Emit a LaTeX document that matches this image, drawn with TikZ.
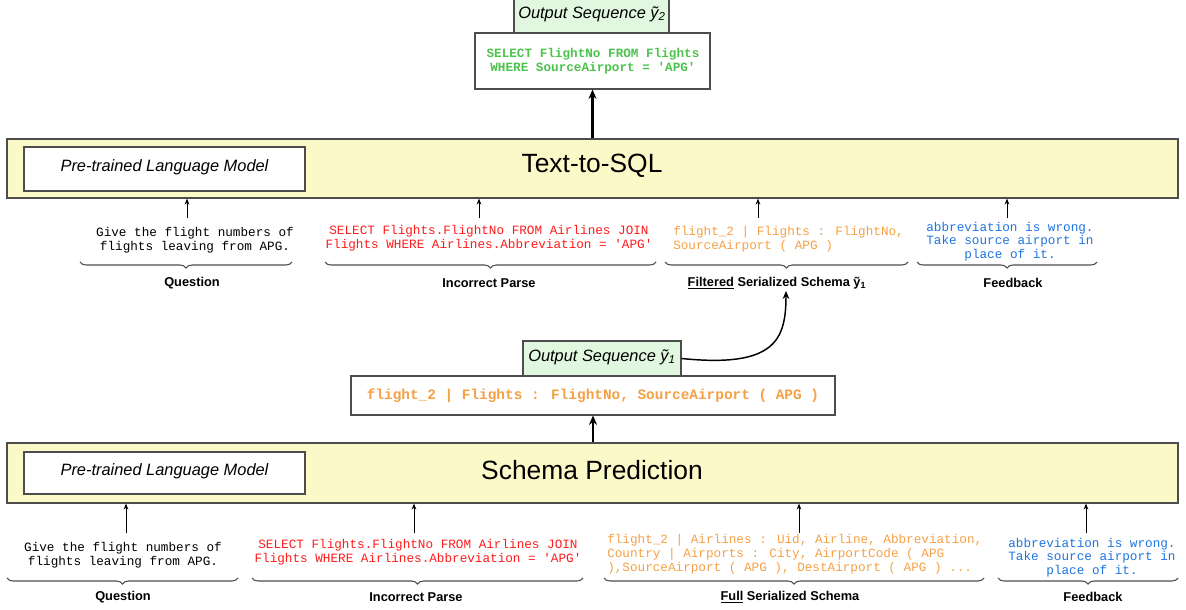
\documentclass[tikz,border=0pt]{standalone}
\usepackage{fontspec}
\setmainfont{Liberation Sans}
\newfontfamily\monof{Liberation Mono}
\usetikzlibrary{decorations.pathreplacing,arrows.meta,fit}
\definecolor{ylw}{HTML}{FBF9C8}
\definecolor{grn}{HTML}{E1F7DF}
\definecolor{sqlgreen}{HTML}{4DC34D}
\definecolor{sqlred}{HTML}{FF1A1A}
\definecolor{sqlorange}{HTML}{F5A045}
\definecolor{sqlblue}{HTML}{1F75E0}
\definecolor{edge}{HTML}{4D4D4D}
\tikzset{
  modelbar/.style={draw=edge, fill=ylw, line width=0.9pt, inner sep=0},
  plmbox/.style={draw=edge, fill=white, line width=0.9pt, inner sep=0},
  outbox/.style={draw=edge, fill=white, line width=0.8pt, inner sep=0},
  seqbox/.style={draw=edge, fill=grn, line width=0.8pt, inner sep=0},
  mono/.style={font=\monof\fontsize{9.5}{10.3}\selectfont, align=center, inner sep=0},
  monobold/.style={font=\monof\bfseries\fontsize{9.5}{10.8}\selectfont, align=center, inner sep=0},
  lbl/.style={font=\bfseries\fontsize{9.6}{11}\selectfont, inner sep=0},
  itl/.style={font=\itshape\fontsize{12.3}{14}\selectfont, inner sep=0},
  big/.style={font=\fontsize{19.8}{23}\selectfont, inner sep=0},
  thinarr/.style={line width=0.6pt, -{Stealth[length=4.5pt,width=3.5pt]}},
  thickarr/.style={line width=2pt, -{Stealth[length=7pt,width=6pt]}},
  brc/.style={draw=edge, line width=0.8pt, decorate, decoration={brace, mirror, amplitude=4.5pt}},
}
\begin{document}
\begin{tikzpicture}[x=0.75pt,y=-0.75pt]
\useasboundingbox (0,0) rectangle (1186,610);

% ---------- top output ----------
\node[fit={(514,-6)(669,33)}, seqbox] (seq2) {};
\node[itl] (seq2t) at (592,14) {Output Sequence ỹ\textsubscript{2}};
\node[fit={(475,33)(710,89)}, outbox] (out2) {};
\node[monobold, text=sqlgreen] (out2t) at (593,61) {SELECT FlightNo FROM Flights\\WHERE SourceAirport = 'APG'};

% ---------- Text-to-SQL bar ----------
\node[fit={(7,139)(1178,198)}, modelbar] (t2s) {};
\node[fit={(24,147)(305,191)}, plmbox] (plm2) {};
\node[itl] (plm2t) at (164.5,167) {Pre-trained Language Model};
\node[big] (t2st) at (592,166) {Text-to-SQL};
\draw[thickarr] (t2s.north -| out2.south) -- (out2.south);

% inputs to Text-to-SQL
\node[mono] (q2) at (195,240) {Give the flight numbers of\\flights leaving from APG.};
\node[mono, text=sqlred] (ip2) at (489,238) {SELECT Flights.FlightNo FROM Airlines JOIN\\Flights WHERE Airlines.Abbreviation = 'APG'};
\node[mono, text=sqlorange, align=left, anchor=west] (fs2) at (673,239) {flight\_2 | Flights : FlightNo,\\SourceAirport ( APG )};
\node[mono, text=sqlblue] (fb2) at (1010,241.5) {abbreviation is wrong.\\Take source airport in\\place of it.};

\coordinate (a2q) at (187,218);
\coordinate (a2i) at (479,218);
\coordinate (a2f) at (758,218);
\coordinate (a2b) at (1007,218);
\foreach \c in {a2q,a2i,a2f,a2b}{\draw[thinarr] (\c) -- (\c |- t2s.south);}

\draw[brc] (80,262) -- (292,262);
\draw[brc] (325,262) -- (656,262);
\draw[brc] (665,262) -- (908,262);
\draw[brc] (917,262) -- (1097,262);

\node[lbl] (q2l) at (192,283) {Question};
\node[lbl] (ip2l) at (489,283) {Incorrect Parse};
\node[lbl] (fs2l) at (777,283) {\underline{Filtered} Serialized Schema ỹ\textsubscript{1}};
\node[lbl] (fb2l) at (1013,283) {Feedback};
\coordinate (fs2in) at (786,291);

% ---------- middle output ----------
\node[fit={(523,341)(681,376)}, seqbox] (seq1) {};
\node[itl] (seq1t) at (602,357) {Output Sequence ỹ\textsubscript{1}};
\node[fit={(351,376)(835,415)}, outbox] (out1) {};
\node[monobold, font=\monof\bfseries\fontsize{10.8}{12}\selectfont, text=sqlorange] (out1t) at (593,396) {flight\_2 | Flights : FlightNo, SourceAirport ( APG )};
\draw[line width=1.1pt, -{Stealth[length=6pt,width=5pt]}] (seq1.east) .. controls (775,368) and (786,340) .. (fs2in);

% ---------- Schema Prediction bar ----------
\node[fit={(7,443)(1178,503)}, modelbar] (sp) {};
\node[fit={(24,452)(305,494)}, plmbox] (plm1) {};
\node[itl] (plm1t) at (164.5,471) {Pre-trained Language Model};
\node[big] (spt) at (592,470) {Schema Prediction};
\draw[thickarr] (sp.north -| out1.south) -- (out1.south);

% inputs to Schema Prediction
\node[mono] (q1) at (123,555) {Give the flight numbers of\\flights leaving from APG.};
\node[mono, text=sqlred] (ip1) at (418,552.5) {SELECT Flights.FlightNo FROM Airlines JOIN\\Flights WHERE Airlines.Abbreviation = 'APG'};
\node[mono, text=sqlorange, align=left, anchor=west] (fs1) at (607,554) {flight\_2 | Airlines : Uid, Airline, Abbreviation,\\Country | Airports : City, AirportCode ( APG\\),SourceAirport ( APG ), DestAirport ( APG ) ...};
\node[mono, text=sqlblue] (fb1) at (1092,557.5) {abbreviation is wrong.\\Take source airport in\\place of it.};

\coordinate (a1q) at (126,533);
\coordinate (a1i) at (414,533);
\coordinate (a1f) at (799,533);
\coordinate (a1b) at (1086,533);
\foreach \c in {a1q,a1i,a1f,a1b}{\draw[thinarr] (\c) -- (\c |- sp.south);}

\draw[brc] (7,578) -- (238,578);
\draw[brc] (252,578) -- (583,578);
\draw[brc] (604,578) -- (984,578);
\draw[brc] (998,578) -- (1178,578);

\node[lbl] (q1l) at (123,597) {Question};
\node[lbl] (ip1l) at (416,597) {Incorrect Parse};
\node[lbl] (fs1l) at (790,597) {\underline{Full} Serialized Schema};
\node[lbl] (fb1l) at (1093,597) {Feedback};
\end{tikzpicture}
\end{document}
